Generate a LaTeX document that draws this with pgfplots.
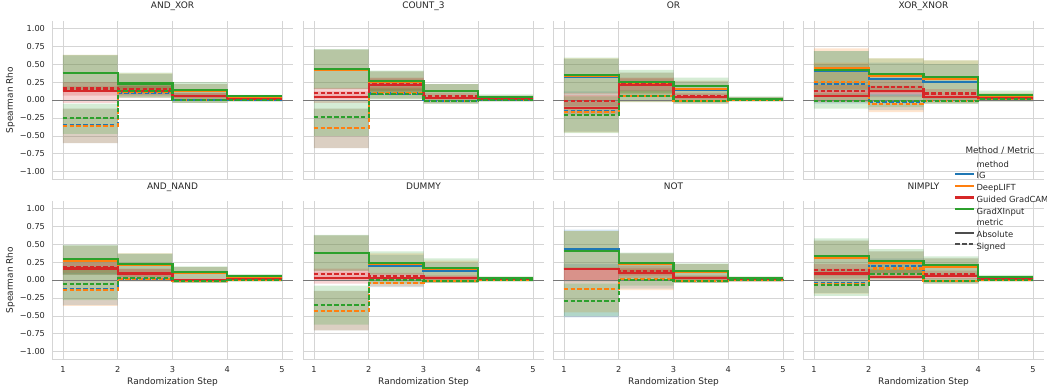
\documentclass[border=0pt]{standalone}
\usepackage{pgfplots}
\pgfplotsset{compat=1.18}
\usepackage{pgfplotstable}
\usepgfplotslibrary{fillbetween}
\usepackage{fontspec}
\setmainfont{DejaVu Sans}

\definecolor{cIG}{HTML}{1F77B4}
\definecolor{cDL}{HTML}{FF7F0E}
\definecolor{cGG}{HTML}{D62728}
\definecolor{cGX}{HTML}{2CA02C}
\definecolor{gridgray}{HTML}{D5D5D5}
\definecolor{labelgray}{HTML}{262626}
\definecolor{zerogray}{HTML}{777777}
\definecolor{leggray}{HTML}{4D4D4D}

% columns: x, then mean/low/high for IG abs, DL abs, GG abs, GX abs, IG signed, DL signed, GG signed, GX signed
\pgfplotstableread{
x IGam IGal IGah DLam DLal DLah GGam GGal GGah GXam GXal GXah IGsm IGsl IGsh DLsm DLsl DLsh GGsm GGsl GGsh GXsm GXsl GXsh
1 0.37 0.12 0.62 0.38 0.13 0.63 0.12 -0.04 0.19 0.38 0.13 0.63 -0.35 -0.60 -0.12 -0.36 -0.60 -0.12 0.16 0.06 0.25 -0.25 -0.47 -0.05
2 0.22 0.10 0.36 0.22 0.10 0.37 0.13 0.06 0.20 0.23 0.10 0.38 0.10 0.03 0.20 0.11 0.03 0.20 0.15 0.08 0.22 0.12 0.04 0.21
3 0.12 0.04 0.22 0.12 0.04 0.22 0.06 0.02 0.10 0.14 0.05 0.25 0.00 -0.04 0.05 0.00 -0.04 0.05 0.06 0.02 0.10 0.00 -0.04 0.05
4 0.04 0.01 0.06 0.04 0.01 0.06 0.02 0.00 0.04 0.05 0.02 0.07 0.00 -0.02 0.02 0.00 -0.02 0.02 0.02 0.00 0.04 0.00 -0.02 0.02
5 0.04 0.01 0.06 0.04 0.01 0.06 0.02 0.00 0.04 0.05 0.02 0.07 0.00 -0.02 0.02 0.00 -0.02 0.02 0.02 0.00 0.04 0.00 -0.02 0.02
}\tANDXOR
\pgfplotstableread{
x IGam IGal IGah DLam DLal DLah GGam GGal GGah GXam GXal GXah IGsm IGsl IGsh DLsm DLsl DLsh GGsm GGsl GGsh GXsm GXsl GXsh
1 0.42 0.15 0.70 0.42 0.15 0.70 0.04 -0.04 0.12 0.43 0.16 0.71 -0.39 -0.67 -0.12 -0.39 -0.67 -0.12 0.10 0.02 0.17 -0.24 -0.50 0.00
2 0.25 0.10 0.40 0.25 0.10 0.40 0.21 0.12 0.30 0.26 0.10 0.41 0.09 0.02 0.17 0.10 0.02 0.18 0.22 0.13 0.31 0.08 0.01 0.16
3 0.12 0.04 0.22 0.12 0.04 0.22 0.03 0.00 0.06 0.13 0.05 0.22 -0.02 -0.05 0.02 -0.02 -0.05 0.02 0.06 0.02 0.10 -0.02 -0.05 0.02
4 0.03 0.01 0.06 0.03 0.01 0.06 0.02 0.00 0.04 0.04 0.01 0.08 0.00 -0.02 0.02 0.00 -0.02 0.02 0.02 0.00 0.05 0.00 -0.02 0.02
5 0.03 0.01 0.06 0.03 0.01 0.06 0.02 0.00 0.04 0.04 0.01 0.08 0.00 -0.02 0.02 0.00 -0.02 0.02 0.02 0.00 0.05 0.00 -0.02 0.02
}\tCOUNT
\pgfplotstableread{
x IGam IGal IGah DLam DLal DLah GGam GGal GGah GXam GXal GXah IGsm IGsl IGsh DLsm DLsl DLsh GGsm GGsl GGsh GXsm GXsl GXsh
1 0.32 0.08 0.57 0.34 0.09 0.58 -0.11 -0.20 -0.02 0.35 0.10 0.59 -0.16 -0.44 0.12 -0.17 -0.45 0.10 -0.01 -0.09 0.07 -0.21 -0.46 0.05
2 0.23 0.08 0.38 0.22 0.08 0.38 0.21 0.12 0.30 0.25 0.10 0.42 0.06 -0.02 0.14 0.05 -0.03 0.13 0.22 0.13 0.31 0.05 -0.03 0.13
3 0.14 0.04 0.26 0.15 0.04 0.27 0.04 0.00 0.08 0.19 0.07 0.31 -0.01 -0.05 0.03 -0.01 -0.05 0.03 0.06 0.02 0.10 -0.01 -0.05 0.03
4 0.02 0.00 0.04 0.02 0.00 0.04 0.01 -0.01 0.03 0.02 0.00 0.05 0.00 -0.02 0.02 0.00 -0.02 0.02 0.01 -0.01 0.03 0.00 -0.02 0.02
5 0.02 0.00 0.04 0.02 0.00 0.04 0.01 -0.01 0.03 0.02 0.00 0.05 0.00 -0.02 0.02 0.00 -0.02 0.02 0.01 -0.01 0.03 0.00 -0.02 0.02
}\tOR
\pgfplotstableread{
x IGam IGal IGah DLam DLal DLah GGam GGal GGah GXam GXal GXah IGsm IGsl IGsh DLsm DLsl DLsh GGsm GGsl GGsh GXsm GXsl GXsh
1 0.41 0.12 0.68 0.44 0.15 0.72 0.05 -0.03 0.13 0.42 0.14 0.68 0.23 -0.05 0.50 0.25 -0.03 0.52 0.13 0.05 0.21 -0.01 -0.12 0.10
2 0.29 0.05 0.52 0.34 0.10 0.58 0.12 0.04 0.20 0.36 0.12 0.58 -0.03 -0.14 0.08 -0.06 -0.17 0.05 0.18 0.08 0.28 -0.01 -0.10 0.08
3 0.25 0.02 0.50 0.29 0.04 0.55 0.04 -0.01 0.09 0.32 0.08 0.55 -0.01 -0.05 0.04 -0.01 -0.05 0.04 0.09 0.03 0.15 -0.01 -0.05 0.04
4 0.04 0.00 0.08 0.05 0.00 0.10 0.03 0.00 0.06 0.07 0.02 0.13 0.01 -0.02 0.04 0.01 -0.02 0.04 0.03 0.00 0.06 0.01 -0.02 0.04
5 0.04 0.00 0.08 0.05 0.00 0.10 0.03 0.00 0.06 0.07 0.02 0.13 0.01 -0.02 0.04 0.01 -0.02 0.04 0.03 0.00 0.06 0.01 -0.02 0.04
}\tXOR
\pgfplotstableread{
x IGam IGal IGah DLam DLal DLah GGam GGal GGah GXam GXal GXah IGsm IGsl IGsh DLsm DLsl DLsh GGsm GGsl GGsh GXsm GXsl GXsh
1 0.27 0.07 0.48 0.27 0.07 0.48 0.16 0.08 0.24 0.29 0.08 0.49 -0.12 -0.35 0.10 -0.14 -0.36 0.08 0.18 0.10 0.26 -0.06 -0.28 0.15
2 0.21 0.08 0.36 0.21 0.08 0.37 0.09 0.03 0.15 0.22 0.08 0.37 0.02 -0.02 0.07 0.02 -0.02 0.07 0.10 0.04 0.16 0.03 -0.01 0.08
3 0.10 0.02 0.18 0.10 0.02 0.18 0.00 -0.02 0.02 0.11 0.03 0.19 -0.01 -0.04 0.02 -0.01 -0.04 0.02 0.00 -0.02 0.02 -0.01 -0.04 0.02
4 0.04 0.01 0.07 0.04 0.01 0.07 0.01 -0.01 0.03 0.05 0.02 0.08 0.00 -0.02 0.02 0.00 -0.02 0.02 0.01 -0.01 0.03 0.00 -0.02 0.02
5 0.04 0.01 0.07 0.04 0.01 0.07 0.01 -0.01 0.03 0.05 0.02 0.08 0.00 -0.02 0.02 0.00 -0.02 0.02 0.01 -0.01 0.03 0.00 -0.02 0.02
}\tANDNAND
\pgfplotstableread{
x IGam IGal IGah DLam DLal DLah GGam GGal GGah GXam GXal GXah IGsm IGsl IGsh DLsm DLsl DLsh GGsm GGsl GGsh GXsm GXsl GXsh
1 0.37 0.12 0.62 0.37 0.12 0.62 0.03 -0.05 0.11 0.38 0.13 0.63 -0.43 -0.70 -0.15 -0.43 -0.70 -0.15 0.08 0.00 0.16 -0.35 -0.62 -0.08
2 0.20 0.06 0.35 0.22 0.07 0.37 0.03 -0.01 0.07 0.24 0.08 0.40 -0.04 -0.10 0.02 -0.04 -0.09 0.02 0.06 0.02 0.10 0.00 -0.05 0.05
3 0.13 0.03 0.24 0.15 0.04 0.27 0.03 0.00 0.06 0.17 0.05 0.30 -0.01 -0.04 0.02 -0.01 -0.04 0.02 0.03 0.00 0.06 -0.01 -0.04 0.02
4 0.02 0.00 0.04 0.02 0.00 0.04 0.01 -0.01 0.03 0.03 0.01 0.05 0.00 -0.02 0.02 0.00 -0.02 0.02 0.01 -0.01 0.03 0.00 -0.02 0.02
5 0.02 0.00 0.04 0.02 0.00 0.04 0.01 -0.01 0.03 0.03 0.01 0.05 0.00 -0.02 0.02 0.00 -0.02 0.02 0.01 -0.01 0.03 0.00 -0.02 0.02
}\tDUMMY
\pgfplotstableread{
x IGam IGal IGah DLam DLal DLah GGam GGal GGah GXam GXal GXah IGsm IGsl IGsh DLsm DLsl DLsh GGsm GGsl GGsh GXsm GXsl GXsh
1 0.43 0.15 0.70 0.41 0.14 0.68 0.15 -0.02 0.17 0.41 0.14 0.68 -0.13 -0.52 0.22 -0.13 -0.45 0.18 0.15 0.00 0.17 -0.29 -0.50 -0.05
2 0.23 0.08 0.37 0.23 0.08 0.37 0.10 0.03 0.17 0.24 0.09 0.38 0.02 -0.12 0.14 0.02 -0.14 0.15 0.13 0.06 0.20 0.00 -0.08 0.08
3 0.11 0.03 0.22 0.11 0.03 0.22 0.03 0.00 0.06 0.12 0.03 0.23 -0.01 -0.04 0.02 -0.01 -0.04 0.02 0.03 0.00 0.06 -0.01 -0.04 0.02
4 0.02 0.00 0.04 0.02 0.00 0.04 0.01 -0.02 0.03 0.03 0.01 0.05 0.00 -0.02 0.02 0.00 -0.02 0.02 0.01 -0.02 0.03 0.00 -0.02 0.02
5 0.02 0.00 0.04 0.02 0.00 0.04 0.01 -0.02 0.03 0.03 0.01 0.05 0.00 -0.02 0.02 0.00 -0.02 0.02 0.01 -0.02 0.03 0.00 -0.02 0.02
}\tNOT
\pgfplotstableread{
x IGam IGal IGah DLam DLal DLah GGam GGal GGah GXam GXal GXah IGsm IGsl IGsh DLsm DLsl DLsh GGsm GGsl GGsh GXsm GXsl GXsh
1 0.31 0.08 0.55 0.31 0.08 0.55 0.09 0.02 0.16 0.34 0.10 0.58 -0.04 -0.18 0.10 -0.05 -0.19 0.09 0.14 0.06 0.22 -0.07 -0.22 0.08
2 0.24 0.10 0.40 0.24 0.10 0.40 0.04 0.00 0.08 0.26 0.10 0.43 0.19 0.08 0.30 0.16 0.05 0.27 0.08 0.02 0.14 0.08 0.01 0.15
3 0.18 0.05 0.30 0.18 0.05 0.30 0.05 0.01 0.09 0.21 0.07 0.33 -0.01 -0.05 0.03 -0.01 -0.05 0.03 0.08 0.03 0.13 -0.01 -0.05 0.03
4 0.03 0.00 0.05 0.03 0.00 0.05 0.02 0.00 0.04 0.04 0.01 0.07 0.00 -0.02 0.02 0.00 -0.02 0.02 0.02 0.00 0.04 0.00 -0.02 0.02
5 0.03 0.00 0.05 0.03 0.00 0.05 0.02 0.00 0.04 0.04 0.01 0.07 0.00 -0.02 0.02 0.00 -0.02 0.02 0.02 0.00 0.04 0.00 -0.02 0.02
}\tNIMPLY

\tikzset{signed/.style={dash pattern=on 4.5pt off 2.2pt}}

\newcommand{\series}[4]{%
  \addplot[const plot, draw=none, forget plot, name path=up#2] table[x=x, y=#2h] {#1};
  \addplot[const plot, draw=none, forget plot, name path=lo#2] table[x=x, y=#2l] {#1};
  \addplot[fill=#3, fill opacity=0.2, draw=none, forget plot] fill between[of=up#2 and lo#2];
  \addplot[const plot, draw=#3, line width=2.1pt, #4, forget plot] table[x=x, y=#2m] {#1};
}
\newcommand{\allseries}[1]{%
  \addplot[zerogray, line width=0.9pt, forget plot] coordinates {(0.8,0) (5.2,0)};
  \series{#1}{IGa}{cIG}{solid}
  \series{#1}{IGs}{cIG}{signed}
  \series{#1}{DLa}{cDL}{solid}
  \series{#1}{DLs}{cDL}{signed}
  \series{#1}{GGa}{cGG}{solid}
  \series{#1}{GGs}{cGG}{signed}
  \series{#1}{GXa}{cGX}{solid}
  \series{#1}{GXs}{cGX}{signed}
}
\newcommand{\legline}[1]{\addlegendimage{legend image code/.code={\draw[#1, line width=2.1pt] (0pt,2.6pt) -- (19pt,2.6pt);}}}

\pgfplotsset{
  panel/.style={
    scale only axis, width=241pt, height=158pt,
    xmin=0.8, xmax=5.2, ymin=-1.1, ymax=1.1,
    xtick={1,2,3,4,5},
    ytick={-1,-0.75,-0.5,-0.25,0,0.25,0.5,0.75,1},
    axis lines*=left,
    axis line style={draw=gridgray, line width=0.8pt},
    grid=major,
    major grid style={draw=gridgray, line width=0.8pt},
    major tick length=0pt,
    tick label style={font=\fontsize{8.2}{9}\selectfont, text=labelgray},
    xticklabel style={yshift=-4pt},
    yticklabel style={xshift=-3.5pt},
    title style={font=\fontsize{9}{10}\selectfont, text=labelgray, at={(0.5,1)}, anchor=base, yshift=6pt},
    xticklabels={},
    yticklabels={},
    label style={font=\fontsize{9}{10}\selectfont, text=labelgray},
    xlabel style={at={(axis description cs:0.5,-0.16)}, anchor=base},
    ylabel style={at={(axis description cs:-0.162,0.5)}, anchor=base, rotate=0},
  },
  firstcol/.style={
    yticklabels={−1.00,−0.75,−0.50,−0.25,0.00,0.25,0.50,0.75,1.00},
    ylabel={Spearman Rho},
  },
  bottomrow/.style={
    xticklabels={1,2,3,4,5},
    xlabel={Randomization Step},
  },
}

\begin{document}
\begin{tikzpicture}
\path (0,0) rectangle (1047pt,386pt);
% top row
\begin{axis}[panel, firstcol, at={(52pt,207pt)}, anchor=south west, title={AND\_XOR}]
\allseries{\tANDXOR}
\end{axis}
\begin{axis}[panel, at={(303pt,207pt)}, anchor=south west, title={COUNT\_3}]
\allseries{\tCOUNT}
\end{axis}
\begin{axis}[panel, at={(553pt,207pt)}, anchor=south west, title={OR}]
\allseries{\tOR}
\end{axis}
\begin{axis}[panel, at={(803pt,207pt)}, anchor=south west, title={XOR\_XNOR}]
\allseries{\tXOR}
\end{axis}
% bottom row
\begin{axis}[panel, firstcol, bottomrow, at={(52pt,27pt)}, anchor=south west, title={AND\_NAND}]
\allseries{\tANDNAND}
\end{axis}
\begin{axis}[panel, bottomrow, at={(303pt,27pt)}, anchor=south west, title={DUMMY}]
\allseries{\tDUMMY}
\end{axis}
\begin{axis}[panel, bottomrow, at={(553pt,27pt)}, anchor=south west, title={NOT}]
\allseries{\tNOT}
\end{axis}
\begin{axis}[panel, bottomrow, at={(803pt,27pt)}, anchor=south west, title={NIMPLY},
  legend style={at={(axis description cs:0.615,1.346)}, anchor=north west, draw=none, fill=none,
    font=\fontsize{8.4}{9}\selectfont, text=labelgray, row sep=2.2pt,
    nodes={inner sep=1pt, text height=6pt, text depth=1.5pt}},
  legend cell align=left]
\allseries{\tNIMPLY}
\addlegendimage{empty legend}\addlegendentry{\hspace{-11pt}\raisebox{2pt}{\fontsize{8.8}{9}\selectfont Method / Metric}}
\addlegendimage{empty legend}\addlegendentry{method}
\legline{cIG}\addlegendentry{IG}
\legline{cDL}\addlegendentry{DeepLIFT}
\legline{cGG}\addlegendentry{Guided GradCAM}
\legline{cGX}\addlegendentry{GradXInput}
\addlegendimage{empty legend}\addlegendentry{metric}
\legline{leggray}\addlegendentry{Absolute}
\legline{leggray, signed}\addlegendentry{Signed}
\end{axis}
\pgfresetboundingbox
\useasboundingbox (0,0) rectangle (1047pt,386pt);
\end{tikzpicture}
\end{document}
